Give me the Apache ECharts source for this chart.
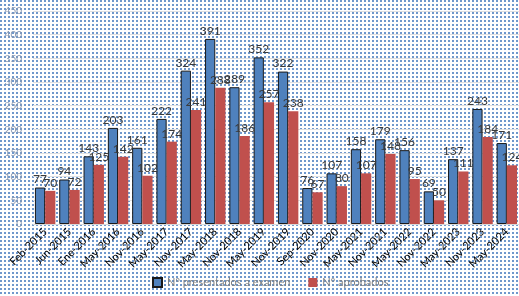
<!DOCTYPE html>
<html>
<head>
<meta charset="utf-8">
<script src="https://cdn.jsdelivr.net/npm/echarts@6/dist/echarts.min.js"></script>
<style>
html, body { margin: 0; padding: 0; }
#chart { width: 519px; height: 296px; }
</style>
</head>
<body>
<div id="chart"></div>
<script>
var categories = ["Feb-2015", "Jun-2015", "Ene-2016", "May-2016", "Nov-2016", "May-2017", "Nov-2017",
    "May-2018", "Nov-2018", "May-2019", "Nov-2019", "Sep-2020", "Nov-2020", "May-2021",
    "Nov-2021", "May-2022", "Nov-2022", "May-2023", "Nov-2023", "May-2024"];
var presentados = [77, 94, 143, 203, 161, 222, 324, 391, 289, 352, 322, 76, 107, 158, 179, 156, 69, 137, 243, 171];
var aprobados = [70, 72, 125, 142, 102, 174, 241, 288, 186, 257, 238, 67, 80, 107, 148, 95, 50, 111, 184, 124];

// fondo punteado
var tile = document.createElement("canvas");
tile.width = 4;
tile.height = 4;
var ctx = tile.getContext("2d");
ctx.fillStyle = "#ffffff";
ctx.fillRect(0, 0, 4, 4);
ctx.fillStyle = "#6f98cc";
ctx.fillRect(0, 0, 2, 2);

var font = "Lato, 'Open Sans', sans-serif";
var labelStyle = {
    show: true,
    position: "top",
    distance: 2,
    color: "#3a3a3a",
    fontSize: 12,
    fontFamily: font
};

var chart = echarts.init(document.getElementById("chart"));
chart.setOption({
    animation: false,
    backgroundColor: { image: tile, repeat: "repeat" },
    grid: { left: 33, right: 0, top: 11, bottom: 72, containLabel: false },
    legend: {
        left: 147,
        bottom: 3,
        itemWidth: 9,
        itemHeight: 9,
        itemGap: 18,
        icon: "rect",
        textStyle: { color: "#7f7f7f", fontSize: 11, fontFamily: font },
        data: ["Nº presentados a examen", "Nº aprobados"]
    },
    xAxis: {
        type: "category",
        data: categories,
        axisLine: { show: true, lineStyle: { color: "#d9d9d9" } },
        axisTick: { show: false },
        axisLabel: {
            interval: 0,
            rotate: 45,
            margin: 6,
            color: "#000000",
            fontSize: 11,
            fontFamily: font
        }
    },
    yAxis: {
        type: "value",
        min: 0,
        max: 450,
        interval: 50,
        axisLine: { show: false },
        axisTick: { show: false },
        axisLabel: { color: "#8797b0", fontSize: 10, margin: 11, fontFamily: font },
        splitLine: { lineStyle: { color: "#e0e0e0", width: 1 } }
    },
    series: [
        {
            name: "Nº presentados a examen",
            type: "bar",
            data: presentados,
            barGap: "0%",
            barCategoryGap: "16%",
            itemStyle: { color: "#4f81bd", borderColor: "#1a1a1a", borderWidth: 1 },
            label: labelStyle
        },
        {
            name: "Nº aprobados",
            type: "bar",
            data: aprobados,
            itemStyle: { color: "#c0504d" },
            label: labelStyle
        }
    ]
});
</script>
</body>
</html>
